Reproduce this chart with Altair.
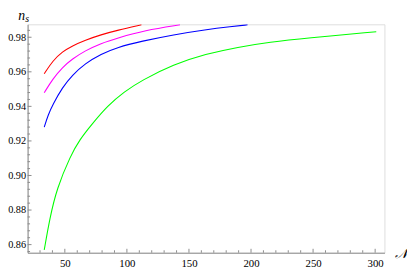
import altair as alt
import pandas as pd

# ---- data ----
red_N = [33.4, 40.4, 48.1, 55.9, 66.3, 79.2, 92.2, 111.7]
red_ns = [0.9589, 0.9665, 0.9717, 0.9750, 0.9783, 0.9815, 0.9840, 0.9872]

magenta_N = [33.4, 40.4, 48.1, 55.9, 66.3, 79.2, 92.2, 114.2, 142.8]
magenta_ns = [0.9479, 0.9560, 0.9626, 0.9674, 0.9722, 0.9765, 0.9795, 0.9840, 0.9872]

blue_N = [33.4, 36.5, 40.4, 48.1, 55.9, 66.3, 79.2, 92.2, 111.8, 137.6, 163.5, 184.2, 197.2]
blue_ns = [0.9280, 0.9350, 0.9412, 0.9510, 0.9580, 0.9648, 0.9703, 0.9742, 0.9777,
           0.9815, 0.9844, 0.9862, 0.9872]

green_N = [33.4, 37.8, 43.5, 54.7, 61.7, 72.2, 84.4, 97.9, 111.8, 137.6, 163.5,
           189.4, 215.3, 243.9, 300.9]
green_ns = [0.8569, 0.8750, 0.8925, 0.9116, 0.9205, 0.9300, 0.9403, 0.9485, 0.9550,
            0.9643, 0.9703, 0.9743, 0.9772, 0.9795, 0.9832]

series_names = ["red", "magenta", "blue", "green"]
series_colors = ["#ff0000", "#ff00ff", "#0000ff", "#00ff00"]

x_major = [50, 100, 150, 200, 250, 300]
x_minor = [30, 40, 60, 70, 80, 90, 110, 120, 130, 140, 160, 170, 180, 190,
           210, 220, 230, 240, 260, 270, 280, 290]
y_major = [0.86, 0.88, 0.90, 0.92, 0.94, 0.96, 0.98]
y_minor = [0.856, 0.864, 0.868, 0.872, 0.876, 0.884, 0.888, 0.892, 0.896,
           0.904, 0.908, 0.912, 0.916, 0.924, 0.928, 0.932, 0.936, 0.944,
           0.948, 0.952, 0.956, 0.964, 0.968, 0.972, 0.976, 0.984]

x_domain = [20, 307.5]
y_domain = [0.8553, 0.9875]

W, H = 364, 233
AXIS_COLOR = "#8a8a8a"
FONT = "Times New Roman, Liberation Serif, serif"

rows = []
for name, xs_, ys_ in [("red", red_N, red_ns), ("magenta", magenta_N, magenta_ns),
                       ("blue", blue_N, blue_ns), ("green", green_N, green_ns)]:
    for a, b in zip(xs_, ys_):
        rows.append({"series": name, "N": a, "ns": b})
df = pd.DataFrame(rows)

xs = alt.Scale(domain=x_domain, nice=False, zero=False)
ys = alt.Scale(domain=y_domain, nice=False, zero=False)

x_axis = alt.Axis(values=x_major, ticks=False, grid=False, title=None,
                  domainColor=AXIS_COLOR, domainWidth=1,
                  labelFont=FONT, labelFontSize=11, labelColor="#000",
                  labelPadding=5, labelFlush=False)
y_axis = alt.Axis(values=y_major, format=".2f", ticks=False, grid=False, title=None,
                  domainColor=AXIS_COLOR, domainWidth=1,
                  labelFont=FONT, labelFontSize=10.5, labelColor="#000",
                  labelPadding=2, labelFlush=False)

lines = alt.Chart(df).mark_line(strokeWidth=1.1, interpolate="basis", clip=True).encode(
    x=alt.X("N:Q", scale=xs, axis=x_axis),
    y=alt.Y("ns:Q", scale=ys, axis=y_axis),
    color=alt.Color("series:N", scale=alt.Scale(domain=series_names, range=series_colors),
                    legend=None),
    detail="series:N",
)

xmaj = alt.Chart(pd.DataFrame({"N": x_major})).mark_rule(color=AXIS_COLOR).encode(
    x=alt.X("N:Q", scale=xs, axis=x_axis), y=alt.value(H), y2=alt.value(H - 4))
xmin = alt.Chart(pd.DataFrame({"N": x_minor})).mark_rule(color=AXIS_COLOR).encode(
    x=alt.X("N:Q", scale=xs, axis=x_axis), y=alt.value(H), y2=alt.value(H - 2.5))
ymaj = alt.Chart(pd.DataFrame({"ns": y_major})).mark_rule(color=AXIS_COLOR).encode(
    y=alt.Y("ns:Q", scale=ys, axis=y_axis), x=alt.value(0), x2=alt.value(4))
ymin = alt.Chart(pd.DataFrame({"ns": y_minor})).mark_rule(color=AXIS_COLOR).encode(
    y=alt.Y("ns:Q", scale=ys, axis=y_axis), x=alt.value(0), x2=alt.value(2.5))

n_lbl = alt.Chart(pd.DataFrame({"t": ["n"]})).mark_text(
    font=FONT, fontStyle="italic", fontSize=14, align="center", baseline="alphabetic",
    color="#000").encode(text="t:N", x=alt.value(-6), y=alt.value(-4.5))
s_lbl = alt.Chart(pd.DataFrame({"t": ["s"]})).mark_text(
    font=FONT, fontStyle="italic", fontSize=10, align="center", baseline="alphabetic",
    color="#000").encode(text="t:N", x=alt.value(-0.5), y=alt.value(-2))
N_lbl = alt.Chart(pd.DataFrame({"t": ["𝒩"]})).mark_text(
    font="DejaVu Serif", fontStyle="italic", fontSize=14, align="center", baseline="middle",
    color="#000").encode(text="t:N", x=alt.value(381), y=alt.value(H + 1))

chart = alt.layer(lines, xmin, xmaj, ymin, ymaj, n_lbl, s_lbl, N_lbl).properties(
    width=W, height=H,
    padding={"left": 20, "top": 14, "right": 23, "bottom": 15},
    autosize=alt.AutoSizeParams(type="none"),
).configure_view(stroke=None).configure(background="white")

chart.save("out.html", embed_options={"renderer": "svg", "actions": False})
